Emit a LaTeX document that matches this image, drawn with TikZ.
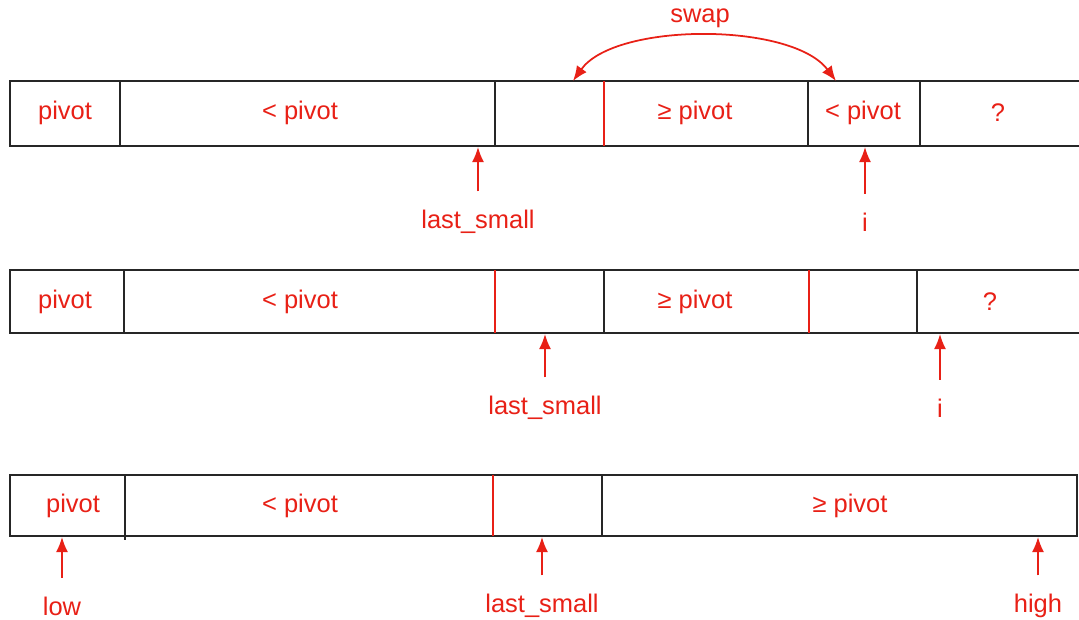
\documentclass[tikz,border=0pt]{standalone}
\usepackage{fontspec}
\setmainfont{Liberation Sans}
\usetikzlibrary{arrows.meta, positioning}
\definecolor{ptrred}{RGB}{232,32,22}
\tikzset{
    cellline/.style={draw=black!85, line width=1.1pt},
    redline/.style={draw=ptrred, line width=1pt},
    celltext/.style={text=ptrred, font=\fontsize{14.5}{17}\selectfont, inner sep=2pt},
    ptrarrow/.style={-{Latex[length=3mm, width=2.4mm]}, draw=ptrred, line width=1pt, shorten <=3mm},
}

\begin{document}
\begin{tikzpicture}[x=0.02cm, y=-0.02cm]
        \useasboundingbox (0,0) rectangle (1079,619);

        % Row 1
        \draw[cellline] (1079,81) -- (10,81) -- (10,146) -- (1079,146);
        \foreach \sx in {120,495,808,920}
            \draw[cellline] (\sx,81) -- (\sx,146);
        \draw[redline] (604,81) -- (604,146);
        \node[celltext] (r1piv) at (65,113) {pivot};
        \node[celltext] (r1less) at (300,113) {< pivot};
        \node[celltext] (r1geq) at (695,113) {≥ pivot};
        \node[celltext] (r1lessb) at (863,113) {< pivot};
        \node[celltext] (r1q) at (998,113) {?};

        % Row 2
        \draw[cellline] (1079,270) -- (10,270) -- (10,333) -- (1079,333);
        \foreach \sx in {124,604,917}
            \draw[cellline] (\sx,270) -- (\sx,333);
        \foreach \sx in {495,809}
            \draw[redline] (\sx,270) -- (\sx,333);
        \node[celltext] (r2piv) at (65,302) {pivot};
        \node[celltext] (r2less) at (300,302) {< pivot};
        \node[celltext] (r2geq) at (695,302) {≥ pivot};
        \node[celltext] (r2q) at (990,302) {?};

        % Row 3
        \draw[cellline] (10,475) rectangle (1077,536);
        \draw[cellline] (125,475) -- (125,540);
        \draw[cellline] (602,475) -- (602,536);
        \draw[redline] (493,475) -- (493,536);
        \node[celltext] (r3piv) at (73,506) {pivot};
        \node[celltext] (r3less) at (300,506) {< pivot};
        \node[celltext] (r3geq) at (850,506) {≥ pivot};

        % Pointer labels
        \node[celltext] (swap) at (700,18) {swap};
        \node[celltext] (ls1) at (478,222) {last\_small};
        \node[celltext] (i1) at (865,222) {i};
        \node[celltext] (ls2) at (545,408) {last\_small};
        \node[celltext] (i2) at (940,408) {i};
        \node[celltext] (low) at (62,606) {low};
        \node[celltext] (ls3) at (542,606) {last\_small};
        \node[celltext] (high) at (1038,606) {high};

        \coordinate (swapL) at (573,81);
        \coordinate (swapR) at (836,81);
        \coordinate (ls1tip) at (478,147);
        \coordinate (i1tip) at (865,147);
        \coordinate (ls2tip) at (545,334);
        \coordinate (i2tip) at (940,334);
        \coordinate (lowtip) at (62,537);
        \coordinate (ls3tip) at (542,537);
        \coordinate (hightip) at (1038,537);

        % Connections
        \draw[ptrarrow, shorten <=0pt, {Latex[length=3mm, width=2.4mm]}-{Latex[length=3mm, width=2.4mm]}]
            (swapL) .. controls (615,22) and (792,22) .. (swapR);
        \draw[ptrarrow] (ls1) -- (ls1tip);
        \draw[ptrarrow] (i1) -- (i1tip);
        \draw[ptrarrow] (ls2) -- (ls2tip);
        \draw[ptrarrow] (i2) -- (i2tip);
        \draw[ptrarrow] (low) -- (lowtip);
        \draw[ptrarrow] (ls3) -- (ls3tip);
        \draw[ptrarrow] (high) -- (hightip);
    \end{tikzpicture}
\end{document}
